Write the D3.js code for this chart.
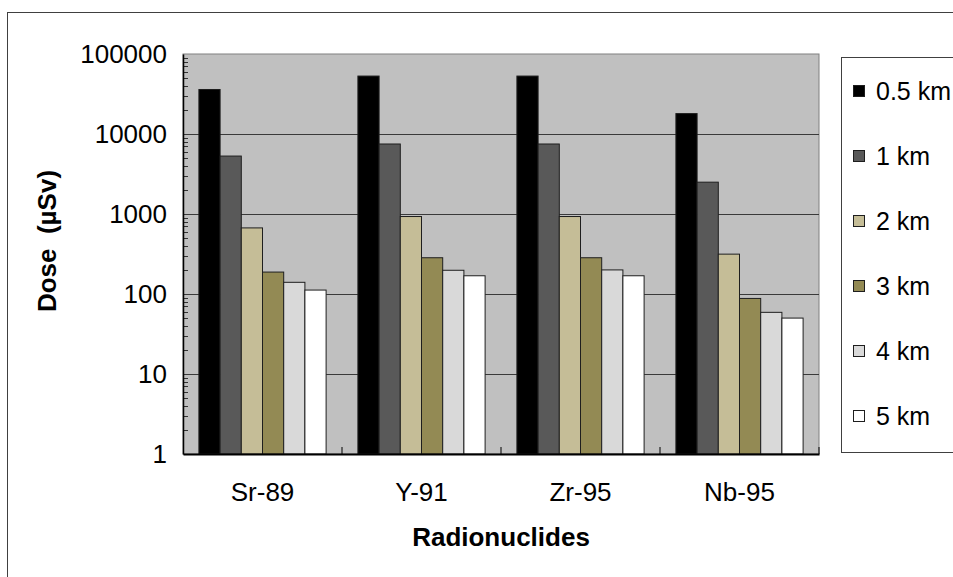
<!DOCTYPE html>
<html>
<head>
<meta charset="utf-8">
<script src="https://cdn.jsdelivr.net/npm/d3@7/dist/d3.min.js"></script>
<style>
    html, body { margin: 0; padding: 0; background: #fff; }
    svg { display: block; font-family: 'Liberation Sans', Arial, sans-serif; }
</style>
</head>
<body>
<div id="chart"></div>
<script>
// Data
const categories = ['Sr-89', 'Y-91', 'Zr-95', 'Nb-95'];
const seriesNames = ['0.5 km', '1 km', '2 km', '3 km', '4 km', '5 km'];
const dose05km = [36000, 53000, 53000, 18000];
const dose1km = [5300, 7500, 7500, 2500];
const dose2km = [670, 930, 930, 315];
const dose3km = [188, 284, 284, 88];
const dose4km = [140, 198, 200, 59];
const dose5km = [112, 169, 169, 50];
const yTicks = [1, 10, 100, 1000, 10000, 100000];
const seriesColors = ['#000000', '#595959', '#c5bd97', '#938a54', '#d9d9d9', '#ffffff'];

const seriesValues = [dose05km, dose1km, dose2km, dose3km, dose4km, dose5km];

const width = 953;
const height = 577;
const plot = { left: 183, right: 819, top: 54, bottom: 454 };

const svg = d3.select('#chart')
    .append('svg')
    .attr('width', width)
    .attr('height', height);

// outer border
svg.append('rect')
    .attr('x', 7.5)
    .attr('y', 12.5)
    .attr('width', 1000)
    .attr('height', 1000)
    .attr('fill', '#fff')
    .attr('stroke', '#404040')
    .attr('stroke-width', 1);

const xScale = d3.scaleBand()
    .domain(categories)
    .range([plot.left, plot.right])
    .padding(0);

const groupPad = xScale.bandwidth() * 0.1;
const xInner = d3.scaleBand()
    .domain(seriesNames)
    .range([groupPad, xScale.bandwidth() - groupPad])
    .padding(0);

const yScale = d3.scaleLog()
    .domain([1, 100000])
    .range([plot.bottom, plot.top]);

// plot background
svg.append('rect')
    .attr('x', plot.left)
    .attr('y', plot.top)
    .attr('width', plot.right - plot.left)
    .attr('height', plot.bottom - plot.top)
    .attr('fill', '#c0c0c0')
    .attr('stroke', '#808080')
    .attr('stroke-width', 1);

// horizontal grid
svg.append('g')
    .selectAll('line')
    .data(yTicks.slice(1, -1))
    .join('line')
    .attr('x1', plot.left)
    .attr('x2', plot.right)
    .attr('y1', d => Math.round(yScale(d)) + 0.5)
    .attr('y2', d => Math.round(yScale(d)) + 0.5)
    .attr('stroke', '#3a3a3a')
    .attr('stroke-width', 1);

// bars
const groups = svg.append('g')
    .selectAll('g')
    .data(categories)
    .join('g')
    .attr('transform', d => 'translate(' + xScale(d) + ',0)');

groups.selectAll('rect')
    .data((c, ci) => seriesNames.map((s, si) => ({ s, si, v: seriesValues[si][ci] })))
    .join('rect')
    .attr('x', d => xInner(d.s))
    .attr('y', d => yScale(d.v))
    .attr('width', xInner.bandwidth())
    .attr('height', d => plot.bottom - yScale(d.v))
    .attr('fill', d => seriesColors[d.si])
    .attr('stroke', '#1e1e1e')
    .attr('stroke-width', 1);

// minor ticks on y axis
const minorTicks = yScale.ticks().filter(d => yTicks.indexOf(d) < 0);
svg.append('g')
    .selectAll('line')
    .data(minorTicks)
    .join('line')
    .attr('x1', plot.left)
    .attr('x2', plot.left + 5)
    .attr('y1', d => Math.round(yScale(d)) + 0.5)
    .attr('y2', d => Math.round(yScale(d)) + 0.5)
    .attr('stroke', '#333')
    .attr('stroke-width', 1);

// y axis
const yAxis = svg.append('g')
    .attr('transform', 'translate(' + plot.left + ',0)')
    .call(d3.axisLeft(yScale).tickValues(yTicks).tickFormat(d3.format('d')).tickSize(0).tickPadding(16));

yAxis.select('.domain')
    .attr('stroke', '#000')
    .attr('stroke-width', 1.5);

yAxis.selectAll('text')
    .style('font-size', '26px')
    .style('font-family', "'Liberation Sans', Arial, sans-serif")
    .attr('fill', '#000');

// x axis
const xAxis = svg.append('g')
    .attr('transform', 'translate(0,' + plot.bottom + ')')
    .call(d3.axisBottom(xScale).tickSize(0).tickPadding(29));

xAxis.select('.domain')
    .attr('stroke', '#000')
    .attr('stroke-width', 2);

xAxis.selectAll('text')
    .style('font-size', '26px')
    .style('font-family', "'Liberation Sans', Arial, sans-serif")
    .attr('fill', '#000');

// category boundary ticks
svg.append('g')
    .selectAll('line')
    .data(categories.slice(1).map(c => xScale(c)).concat([plot.right]))
    .join('line')
    .attr('x1', d => d)
    .attr('x2', d => d)
    .attr('y1', plot.bottom)
    .attr('y2', plot.bottom - 7)
    .attr('stroke', '#000')
    .attr('stroke-width', 1);

// axis titles
svg.append('text')
    .attr('x', (plot.left + plot.right) / 2)
    .attr('y', 546)
    .attr('text-anchor', 'middle')
    .style('font-size', '26px')
    .style('font-weight', 'bold')
    .text('Radionuclides');

svg.append('text')
    .attr('transform', 'translate(56,241) rotate(-90)')
    .attr('text-anchor', 'middle')
    .style('font-size', '26px')
    .style('font-weight', 'bold')
    .style('white-space', 'pre')
    .text('Dose  (µSv)');

// legend
const legendX = 841;
svg.append('rect')
    .attr('x', legendX + 0.5)
    .attr('y', 57.5)
    .attr('width', 200)
    .attr('height', 395)
    .attr('fill', '#fff')
    .attr('stroke', '#404040')
    .attr('stroke-width', 1);

const legendItems = svg.append('g')
    .selectAll('g')
    .data(seriesNames)
    .join('g')
    .attr('transform', (d, i) => 'translate(' + legendX + ',' + (91 + i * 65) + ')');

legendItems.append('rect')
    .attr('x', 12.5)
    .attr('y', -5.5)
    .attr('width', 11)
    .attr('height', 11)
    .attr('fill', (d, i) => seriesColors[i])
    .attr('stroke', '#1e1e1e')
    .attr('stroke-width', 1);

legendItems.append('text')
    .attr('x', 35)
    .attr('dy', '0.36em')
    .style('font-size', '25px')
    .text(d => d);
</script>
</body>
</html>
